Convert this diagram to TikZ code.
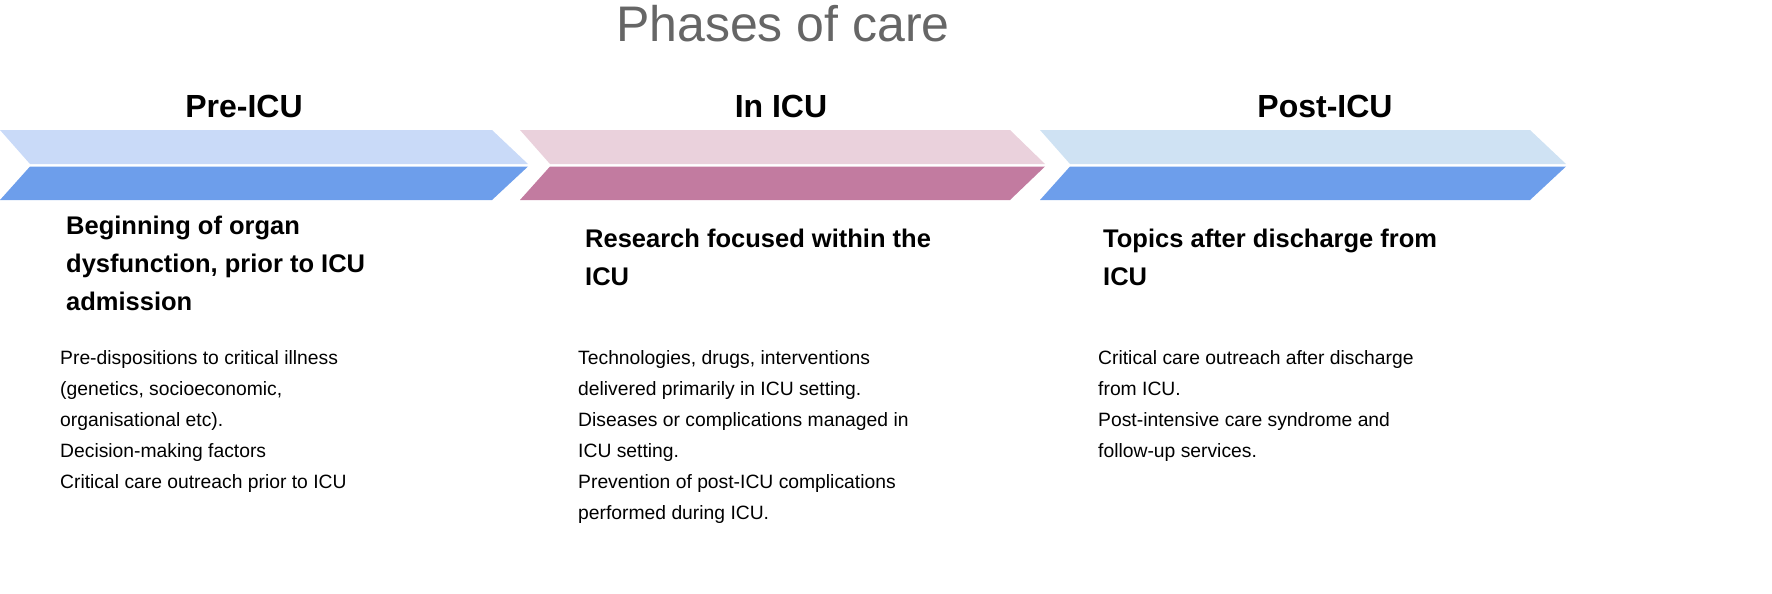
\documentclass[tikz,border=0pt]{standalone}
\usepackage{fontspec}
\setmainfont{Liberation Sans}
\begin{document}
\begin{tikzpicture}[x=1pt,y=-1pt,
  head/.style={font=\fontsize{32}{36}\selectfont\bfseries, anchor=base},
  sub/.style={font=\fontsize{25.5}{38}\selectfont\bfseries, anchor=north west, align=left, inner sep=0},
  body/.style={font=\fontsize{19.3}{31}\selectfont, anchor=north west, align=left, inner sep=0}]
\useasboundingbox (0,0) rectangle (1772,594);
\definecolor{lb}{HTML}{C9DAF8}\definecolor{db}{HTML}{6D9EEB}
\definecolor{lp}{HTML}{EAD1DC}\definecolor{dp}{HTML}{C27BA0}
\definecolor{lc}{HTML}{CFE2F3}
\newcommand{\chev}[5]{%
  \fill[#4] (#1,130) -- (#2,130) -- (#3,164) -- (#1+30,164) -- cycle;
  \fill[#5] (#1+30,166.5) -- (#3,166.5) -- (#2,200) -- (#1,200) -- cycle;}
\chev{0}{492}{528}{lb}{db}
\chev{520}{1010}{1045}{lp}{dp}
\chev{1040}{1530}{1566}{lc}{db}
\node[font=\fontsize{50}{54}\selectfont, text=black!60, anchor=base] (title) at (783,42) {Phases of care};
\node[head] (h1) at (244,117) {Pre-ICU};
\node[head] (h2) at (781,117) {In ICU};
\node[head] (h3) at (1325,117) {Post-ICU};
\node[sub] (s1) at (66,216) {Beginning of organ\\dysfunction, prior to ICU\\admission};
\node[sub] (s2) at (585,229) {Research focused within the\\ICU};
\node[sub] (s3) at (1103,229) {Topics after discharge from\\ICU};
\node[body] (b1) at (60,350) {Pre-dispositions to critical illness\\(genetics, socioeconomic,\\organisational etc).\\Decision-making factors\\Critical care outreach prior to ICU};
\node[body] (b2) at (578,350) {Technologies, drugs, interventions\\delivered primarily in ICU setting.\\Diseases or complications managed in\\ICU setting.\\Prevention of post-ICU complications\\performed during ICU.};
\node[body] (b3) at (1098,350) {Critical care outreach after discharge\\from ICU.\\Post-intensive care syndrome and\\follow-up services.};
\end{tikzpicture}
\end{document}
